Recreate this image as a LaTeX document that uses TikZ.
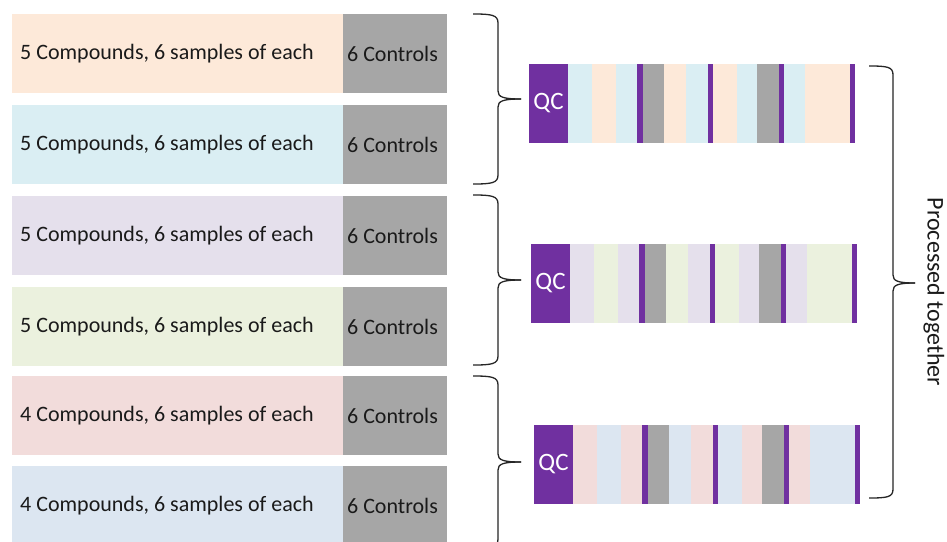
\documentclass[tikz,border=0pt]{standalone}
\usepackage{fontspec}
\setmainfont{Carlito}
\definecolor{cpeach}{HTML}{FDE9D9}
\definecolor{cblue}{HTML}{DAEEF3}
\definecolor{clav}{HTML}{E5E0EC}
\definecolor{cgreen}{HTML}{EBF1DE}
\definecolor{cpink}{HTML}{F2DCDB}
\definecolor{cbgray}{HTML}{DCE6F1}
\definecolor{cgrey}{HTML}{A6A6A6}
\definecolor{cpurple}{HTML}{7030A0}
\definecolor{ctext}{HTML}{1A1A1A}
\tikzset{
  rowbox/.style={rectangle, inner sep=0pt, outer sep=0pt, minimum width=331pt, minimum height=79pt, anchor=north west},
  ctrlbox/.style={rectangle, fill=cgrey, inner sep=0pt, outer sep=0pt, minimum width=104pt, minimum height=79pt, anchor=north west},
  rowtext/.style={anchor=west, inner sep=0pt, text=ctext, font=\fontsize{22}{26}\selectfont},
  ctrltext/.style={inner sep=0pt, text=ctext, font=\fontsize{22}{26}\selectfont},
  qcbox/.style={rectangle, fill=cpurple, text=white, inner sep=0pt, outer sep=0pt, minimum width=39pt, minimum height=79pt, anchor=north west, font=\fontsize{25}{29}\selectfont},
  bracepath/.style={draw=black!85, line width=1.3pt, line join=round},
  sidetext/.style={rotate=-90, inner sep=0pt, text=ctext, font=\fontsize{24}{28}\selectfont}
}
% strip: #1 x0, #2 ytop, #3 colour X, #4 colour Y, #5 name
\newcommand{\mystrip}[5]{%
  \colorlet{sx}{#3}\colorlet{sy}{#4}%
  \foreach \a/\b/\c in {39/63/sx,63/87/sy,87/108/sx,108/114/cpurple,114/135/cgrey,135/157/sy,157/179/sx,179/184/cpurple,184/208/sy,208/228/sx,228/250/cgrey,250/255/cpurple,255/276/sx,276/321/sy,321/326/cpurple}{%
    \fill[\c] (#1+\a,#2) rectangle (#1+\b,#2+79);
  }%
  \node[qcbox] (#5) at (#1,#2) {QC};
}
% left brace: #1 top, #2 tip, #3 bottom
\newcommand{\mybrace}[3]{%
  \draw[bracepath] (473,#1) .. controls (492,#1) and (498,#1+1) .. (498,#1+9) -- (498,#2-8) .. controls (498,#2-2) and (503,#2) .. (521,#2);
  \draw[bracepath] (473,#3) .. controls (492,#3) and (498,#3-1) .. (498,#3-9) -- (498,#2+8) .. controls (498,#2+2) and (503,#2) .. (521,#2);
}
\begin{document}
\begin{tikzpicture}[x=1pt,y=-1pt]
\useasboundingbox (0,0) rectangle (947,541);
\clip (0,0) rectangle (947,541);
\fill[white] (0,0) rectangle (947,541);
% rows
\foreach \i/\t/\c/\n in {1/14/cpeach/5,2/105/cblue/5,3/196/clav/5,4/287/cgreen/5,5/376/cpink/4,6/466/cbgray/4}{
  \node[rowbox, fill=\c] (row\i) at (12,\t) {};
  \node[ctrlbox] (ctl\i) at (343,\t) {};
  \node[rowtext] (txt\i) at (20,\t+40) {\n\ Compounds, 6 samples of each};
  \node[ctrltext] (ctt\i) at (392.5,\t+40) {6 Controls};
}
% strips
\mystrip{529}{64}{cblue}{cpeach}{qc1}
\mystrip{531}{244}{clav}{cgreen}{qc2}
\mystrip{534}{425}{cpink}{cbgray}{qc3}
% braces
\mybrace{14}{99}{184}
\mybrace{195}{280}{365}
\mybrace{376}{462}{548}
% right brace
\draw[bracepath] (869,66) .. controls (888,66) and (893,67) .. (893,75) -- (893,275) .. controls (893,281) and (898,283) .. (915,283);
\draw[bracepath] (869,498) .. controls (888,498) and (893,497) .. (893,489) -- (893,291) .. controls (893,285) and (898,283) .. (915,283);
\node[sidetext] (proc) at (934,292) {Processed together};
\end{tikzpicture}
\end{document}
